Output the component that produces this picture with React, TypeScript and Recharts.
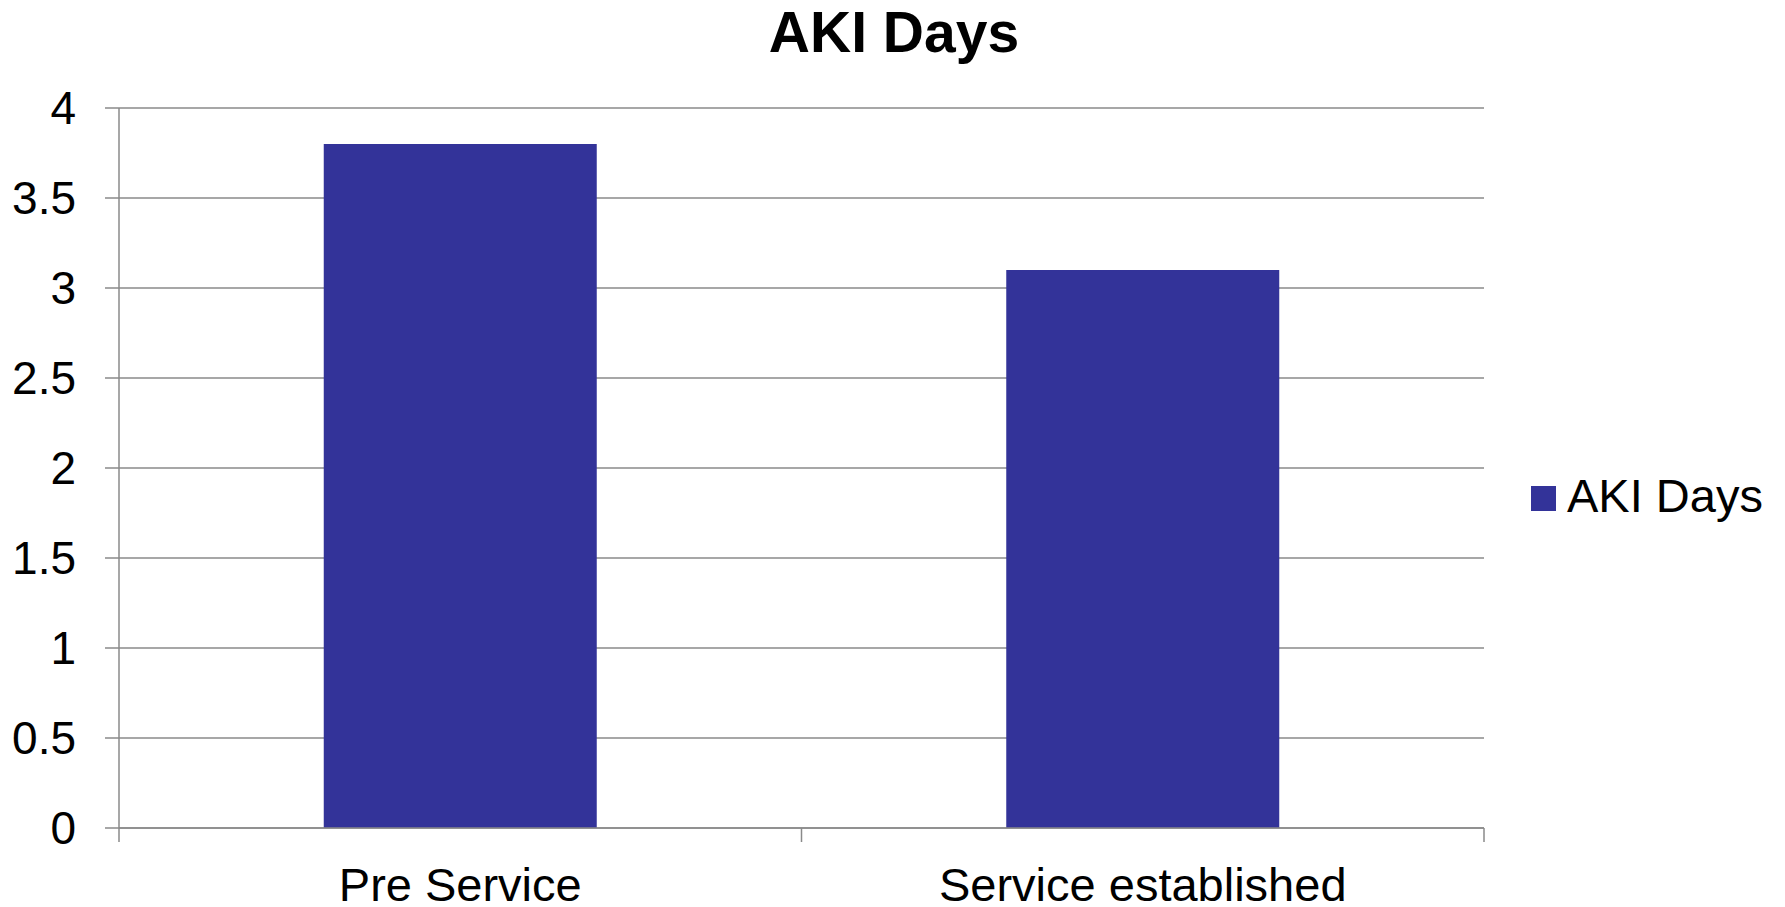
import React from "react";
import { BarChart, Bar, XAxis, YAxis, CartesianGrid, Legend } from "recharts";

const categories = ["Pre Service", "Service established"];
const aki = [3.8, 3.1];
const seriesName = "AKI Days";
const yTicks = [0, 0.5, 1, 1.5, 2, 2.5, 3, 3.5, 4];

const data = categories.map((name, i) => ({ name, idx: i + 0.5, value: aki[i] }));
const xTicks: number[] = [];
for (let i = 0; i <= categories.length; i++) {
  xTicks.push(i);
  if (i < categories.length) xTicks.push(i + 0.5);
}

const FONT = "'Liberation Sans', Arial, Helvetica, sans-serif";
const GRID = "#8a8a8a";
const BAR = "#333399";

const XTick = (props: any) => {
  const { x, y, payload } = props;
  const v = payload.value as number;
  if (Number.isInteger(v)) {
    return <line x1={x} x2={x} y1={y} y2={y + 14} stroke={GRID} strokeWidth={1.5} />;
  }
  return (
    <text x={x} y={y + 73} textAnchor="middle" fontSize={47} fontFamily={FONT} fill="#000">
      {categories[Math.floor(v)]}
    </text>
  );
};

const LegendContent = () => (
  <svg width={260} height={60}>
    <rect x={0} y={16} width={25} height={25} fill={BAR} />
    <text x={36} y={42} fontSize={47} fontFamily={FONT} fill="#000">
      {seriesName}
    </text>
  </svg>
);

export default function App() {
  return (
    <div style={{ position: "absolute", left: 0, top: 0, width: 1785, height: 907, background: "#fff" }}>
      <div
        style={{
          position: "absolute",
          left: 394,
          top: 4,
          width: 1000,
          textAlign: "center",
          fontFamily: FONT,
          fontWeight: "bold",
          fontSize: 57,
          lineHeight: "57px",
          color: "#000",
        }}
      >
        {seriesName}
      </div>
      <BarChart
        width={1785}
        height={907}
        data={data}
        margin={{ top: 108, right: 301, bottom: 78, left: 0 }}
        barCategoryGap="30%"
      >
        <CartesianGrid horizontal vertical={false} stroke={GRID} strokeWidth={1.5} />
        <XAxis
          xAxisId="num"
          type="number"
          dataKey="idx"
          domain={[0, categories.length]}
          ticks={xTicks}
          interval={0}
          height={1}
          tickLine={false}
          tickSize={0}
          tickMargin={0}
          axisLine={{ stroke: GRID, strokeWidth: 1.5 }}
          tick={<XTick />}
        />
        <XAxis xAxisId="cat" dataKey="name" hide height={0} />
        <YAxis
          width={119}
          domain={[0, 4]}
          ticks={yTicks}
          interval={0}
          tickSize={14}
          tickMargin={29}
          tickLine={{ stroke: GRID, strokeWidth: 1.5 }}
          axisLine={{ stroke: GRID, strokeWidth: 1.5 }}
          tick={{ fontSize: 46, fontFamily: FONT, fill: "#000" }}
        />
        <Legend
          layout="vertical"
          align="center"
          verticalAlign="middle"
          content={<LegendContent />}
          wrapperStyle={{ left: 1531, top: 470, width: 260, height: 60 }}
        />
        <Bar xAxisId="cat" dataKey="value" name={seriesName} fill={BAR} isAnimationActive={false} />
      </BarChart>
    </div>
  );
}
